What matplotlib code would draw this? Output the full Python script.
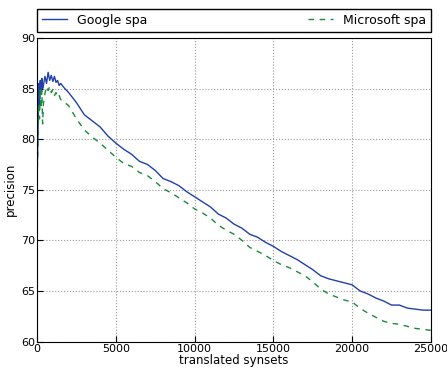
import matplotlib
matplotlib.use("Agg")
import matplotlib.pyplot as plt

# translated synsets (x) and precision for each system
synsets = [0, 50, 100, 150, 200, 250, 300, 350, 400, 500, 600, 700, 800, 900,
           1000, 1100, 1200, 1300, 1400, 1500, 1700, 2000, 2500, 3000, 3500,
           4000, 4500, 5000, 5500, 6000, 6500, 7000, 7500, 8000, 8500, 9000,
           9500, 10000, 10500, 11000, 11500, 12000, 12500, 13000, 13500, 14000,
           14500, 15000, 15500, 16000, 16500, 17000, 17500, 18000, 18500, 19000,
           19500, 20000, 20500, 21000, 21500, 22000, 22500, 23000, 23500, 24000,
           24500, 25000]

google_spa = [76.5, 80.0, 85.5, 83.0, 85.8, 84.5, 86.0, 85.0, 85.3, 86.2, 85.5,
              86.6, 85.8, 86.3, 85.7, 86.2, 85.6, 85.8, 85.3, 85.5, 85.1, 84.6,
              83.6, 82.4, 81.8, 81.2, 80.3, 79.6, 79.0, 78.5, 77.8, 77.5, 76.9,
              76.1, 75.8, 75.4, 74.8, 74.3, 73.8, 73.3, 72.6, 72.2, 71.6, 71.2,
              70.6, 70.3, 69.8, 69.4, 68.9, 68.5, 68.1, 67.6, 67.1, 66.5, 66.2,
              66.0, 65.8, 65.6, 65.0, 64.7, 64.3, 64.0, 63.6, 63.6, 63.3, 63.2,
              63.1, 63.1]

microsoft_spa = [76.0, 79.0, 83.5, 82.0, 85.0, 83.0, 84.8, 81.5, 83.5, 84.5, 85.2,
                 84.8, 85.2, 84.6, 84.9, 84.3, 84.6, 84.1, 84.3, 83.9, 83.7, 83.3,
                 82.0, 80.9, 80.2, 79.6, 78.9, 78.2, 77.6, 77.3, 76.7, 76.4, 75.8,
                 75.1, 74.7, 74.2, 73.7, 73.1, 72.7, 72.2, 71.5, 71.0, 70.6, 70.0,
                 69.3, 68.9, 68.5, 68.0, 67.6, 67.3, 66.9, 66.5, 65.9, 65.2, 64.7,
                 64.4, 64.1, 63.9, 63.3, 62.8, 62.4, 62.0, 61.8, 61.7, 61.5, 61.3,
                 61.2, 61.1]

fig = plt.figure(figsize=(4.47, 3.68), dpi=100)
ax = fig.add_axes([0.083, 0.072, 0.881, 0.825])

ax.plot(synsets, google_spa, color='#2040a8', lw=1.0, label='Google spa')
ax.plot(synsets, microsoft_spa, color='#1a8a3a', lw=1.0, dashes=(4, 4),
        label='Microsoft spa')

ax.set_xlim(0, 25000)
ax.set_ylim(60, 90)
ax.set_xticks([0, 5000, 10000, 15000, 20000, 25000])
ax.set_yticks([60, 65, 70, 75, 80, 85, 90])
ax.tick_params(direction='in', labelsize=8, length=4, pad=1.5)
ax.grid(True, ls=':', color='#999999', lw=0.8)
ax.set_xlabel('translated synsets', fontsize=8.5, labelpad=0)
ax.set_ylabel('precision', fontsize=8.5, labelpad=3)

ax.legend(bbox_to_anchor=(0.0, 1.02, 1.0, 0.1), loc='lower left', ncol=2,
          mode='expand', borderaxespad=0.0, fontsize=9, fancybox=False,
          edgecolor='black', framealpha=1, handlelength=2.0)

fig.savefig('out.png', dpi=100)
